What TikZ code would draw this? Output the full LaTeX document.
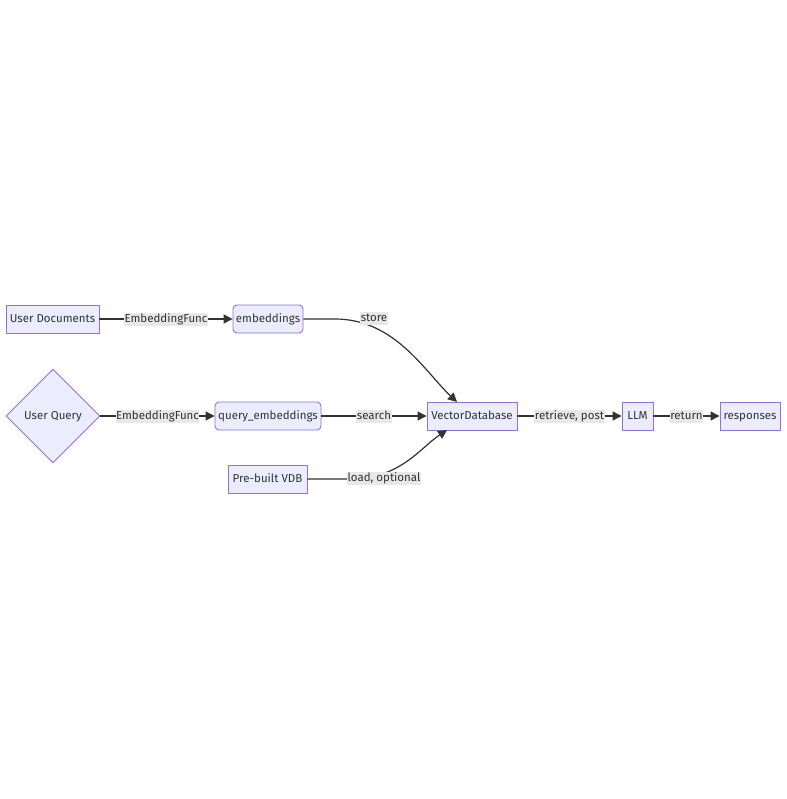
\documentclass[tikz,border=0pt]{standalone}
\usepackage{fontspec}
\setmainfont{Fira Sans}
\usetikzlibrary{shapes.geometric,arrows.meta}
\definecolor{nodefill}{HTML}{ECECFF}
\definecolor{nodeborder}{HTML}{9370DB}
\definecolor{edgecol}{HTML}{333333}
\definecolor{labelbg}{HTML}{E8E8E8}
\definecolor{textcol}{HTML}{333333}
\tikzset{
  txt/.style={text=textcol, font=\fontsize{11.5}{13}\selectfont, text height=8.5pt, text depth=2.5pt},
  box/.style={txt, draw=nodeborder, fill=nodefill, line width=0.9pt, minimum height=28pt, inner sep=0pt},
  rbox/.style={box, rounded corners=4pt},
  dia/.style={box, diamond, minimum width=94pt, minimum height=94pt},
  edge/.style={draw=edgecol, line width=1.2pt, -{Triangle[length=9pt,width=9pt]}},
  elabel/.style={txt, fill=labelbg, inner xsep=0.5pt, inner ysep=1pt}
}
\begin{document}
\begin{tikzpicture}[x=1pt,y=-1pt]
\useasboundingbox[fill=white] (0,0) rectangle (786,799);
\node[box, minimum width=93pt] (udoc) at (52.5,319) {User Documents};
\node[rbox, minimum width=70pt] (emb) at (268,319) {embeddings};
\node[dia] (uq) at (53,416) {User Query};
\node[rbox, minimum width=106pt] (qemb) at (268,416) {query\_embeddings};
\node[box, minimum width=79pt] (pvdb) at (267.5,479) {Pre-built VDB};
\node[box, minimum width=90pt] (vdb) at (472,416) {VectorDatabase};
\node[box, minimum width=31pt] (llm) at (637.5,416) {LLM};
\node[box, minimum width=60pt] (resp) at (750,416) {responses};
\coordinate (vdbtop) at (457,402);
\coordinate (vdbbot) at (447,430);

\draw[edge] (udoc.east) -- node[elabel] {EmbeddingFunc} (emb.west);
\draw[edge] (uq.east) -- node[elabel] {EmbeddingFunc} (qemb.west);
\draw[edge] (qemb.east) -- node[elabel] {search} (vdb.west);
\draw[edge] (vdb.east) -- node[elabel] {retrieve, post} (llm.west);
\draw[edge] (llm.east) -- node[elabel] {return} (resp.west);
\draw[edge] (emb.east) -- (335,319) .. controls (395,319) and (425,372) .. (vdbtop);
\draw[edge] (pvdb.east) -- (350,479) .. controls (400,479) and (420,448) .. (vdbbot);
\node[elabel] (lstore) at (374,318) {store};
\node[elabel] (lload) at (384,478) {load, optional};
\end{tikzpicture}
\end{document}
